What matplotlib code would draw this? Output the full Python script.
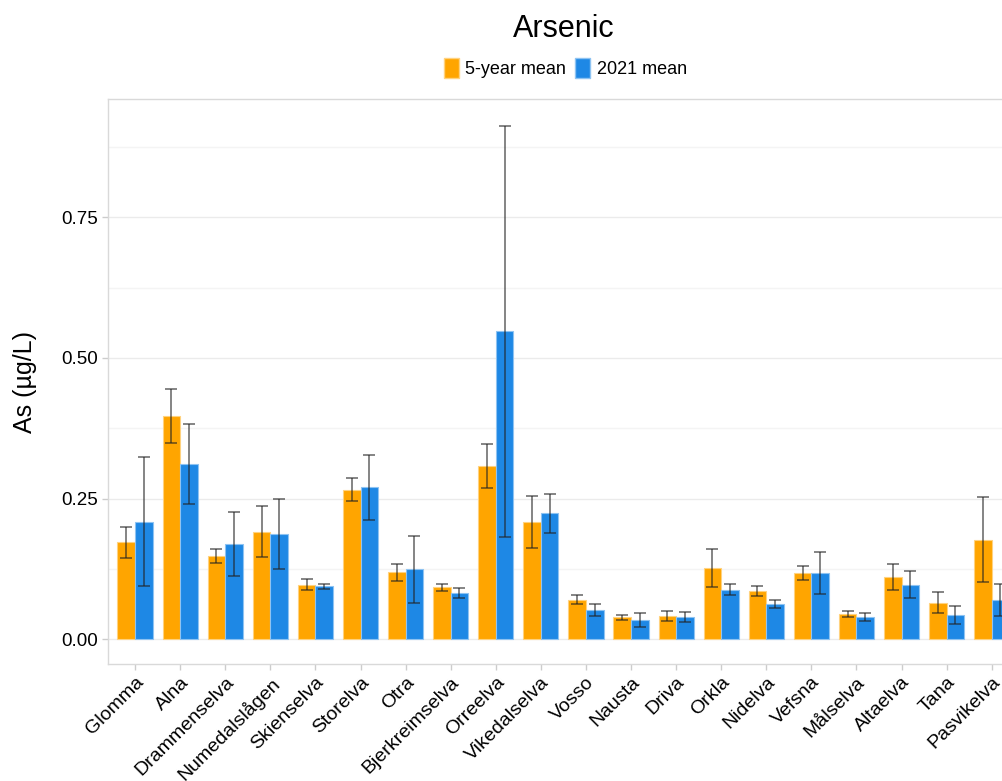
import numpy as np
import matplotlib
matplotlib.use("Agg")
import matplotlib.pyplot as plt
from matplotlib.patches import Patch

plt.rcParams['font.family'] = ['Liberation Sans', 'DejaVu Sans']

rivers = ["Glomma", "Alna", "Drammenselva", "Numedalslågen", "Skienselva",
          "Storelva", "Otra", "Bjerkreimselva", "Orreelva", "Vikedalselva",
          "Vosso", "Nausta", "Driva", "Orkla", "Nidelva", "Vefsna",
          "Målselva", "Altaelva", "Tana", "Pasvikelva"]

mean_5yr = [0.172, 0.397, 0.148, 0.191, 0.097, 0.266, 0.119, 0.092, 0.308, 0.208,
            0.070, 0.039, 0.041, 0.127, 0.085, 0.118, 0.045, 0.110, 0.065, 0.177]
err_5yr = [0.028, 0.048, 0.012, 0.045, 0.010, 0.020, 0.015, 0.006, 0.039, 0.046,
           0.008, 0.004, 0.009, 0.034, 0.009, 0.013, 0.005, 0.023, 0.019, 0.075]

mean_2021 = [0.209, 0.312, 0.169, 0.187, 0.094, 0.270, 0.124, 0.082, 0.547, 0.224,
             0.052, 0.034, 0.039, 0.088, 0.063, 0.118, 0.039, 0.097, 0.043, 0.070]
err_2021 = [0.114, 0.071, 0.057, 0.063, 0.005, 0.058, 0.059, 0.009, 0.365, 0.035,
            0.010, 0.013, 0.009, 0.010, 0.007, 0.037, 0.007, 0.024, 0.016, 0.028]

orange = "#FFA500"
blue = "#1E88E5"

fig = plt.figure(figsize=(10.03, 7.81), dpi=100)
# panel runs slightly past the right edge of the figure
ax = fig.add_axes([0.1077, 0.1498, 0.908, 0.7234])

x = np.arange(len(rivers))
w = 0.39
err_kw = dict(ecolor="#222222", elinewidth=1.1, capsize=4, capthick=1.1, alpha=0.7)
ax.bar(x - w / 2, mean_5yr, w, color=orange, edgecolor="#FFD27F", linewidth=0.8,
       yerr=err_5yr, error_kw=err_kw, zorder=2)
ax.bar(x + w / 2, mean_2021, w, color=blue, edgecolor="#8EC3F2", linewidth=0.8,
       yerr=err_2021, error_kw=err_kw, zorder=2)

ax.set_xlim(-0.6, len(rivers) - 0.4)
ax.set_ylim(-0.044, 0.96)
ax.set_yticks([0, 0.25, 0.5, 0.75])
ax.set_yticklabels(["0.00", "0.25", "0.50", "0.75"], fontsize=13.5)
ax.set_yticks([0.125, 0.375, 0.625, 0.875], minor=True)
ax.tick_params(axis="y", which="minor", length=0)
ax.grid(axis="y", which="major", color="#ebebeb", linewidth=1.0, zorder=0)
ax.grid(axis="y", which="minor", color="#f4f4f4", linewidth=1.0, zorder=0)
ax.set_axisbelow(True)

ax.set_xticks(x)
ax.set_xticklabels(rivers, rotation=45, ha="right", rotation_mode="anchor",
                   fontsize=14)
ax.tick_params(axis="both", which="major", color="#cccccc", length=4, width=1)
ax.tick_params(axis="x", pad=3)

for side in ["left", "top", "bottom", "right"]:
    ax.spines[side].set_color("#d9d9d9")
    ax.spines[side].set_linewidth(1.0)

ax.set_ylabel("As (µg/L)", fontsize=18, labelpad=17)

fig.text(0.5618, 0.963, "Arsenic", ha="center", va="center", fontsize=22)
handles = [Patch(facecolor=orange, edgecolor="#FFD27F", label="5-year mean"),
           Patch(facecolor=blue, edgecolor="#8EC3F2", label="2021 mean")]
fig.legend(handles=handles, loc="center", bbox_to_anchor=(0.5635, 0.913), ncol=2,
           frameon=False, fontsize=13, handlelength=0.85, handleheight=1.35,
           handletextpad=0.35, columnspacing=0.5)

fig.savefig("out.png", dpi=100)
